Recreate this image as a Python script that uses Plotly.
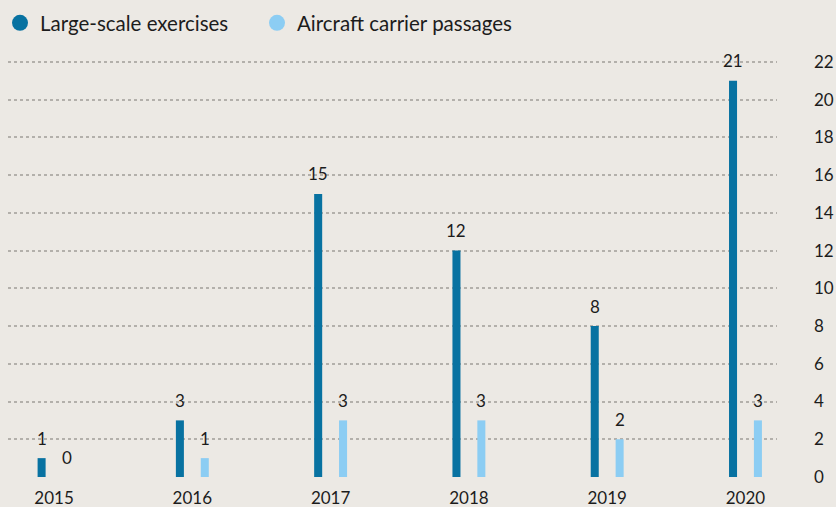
import plotly.graph_objects as go

years = [2015, 2016, 2017, 2018, 2019, 2020]
large_scale = [1, 3, 15, 12, 8, 21]
carrier = [0, 1, 3, 3, 2, 3]
series_names = ["Large-scale exercises", "Aircraft carrier passages"]
y_ticks = list(range(0, 23, 2))

DARK = "#0872a1"
LIGHT = "#8ccdf3"
BG = "#ece9e4"
TXT = "#1c1c1c"
FONT = "Lato"

bw = 0.058
off = 0.09

fig = go.Figure()
fig.add_trace(go.Bar(x=years, y=large_scale, width=bw, offset=-off - bw / 2,
                     marker=dict(color=DARK, line=dict(width=0)), showlegend=False,
                     hoverinfo="skip"))
fig.add_trace(go.Bar(x=years, y=carrier, width=bw, offset=off - bw / 2,
                     marker=dict(color=LIGHT, line=dict(width=0)), showlegend=False,
                     hoverinfo="skip"))

for name, col in zip(series_names, [DARK, LIGHT]):
    fig.add_trace(go.Scatter(x=[None], y=[None], mode="markers", name=name,
                             marker=dict(symbol="circle", size=17, color=col)))

for yr, v1, v2 in zip(years, large_scale, carrier):
    fig.add_annotation(x=yr, y=v1, text=str(v1), showarrow=False, xshift=-12.5,
                       yshift=20, yanchor="middle", font=dict(size=17, color=TXT, family=FONT))
    fig.add_annotation(x=yr, y=v2, text=str(v2), showarrow=False, xshift=12.5,
                       yshift=20, yanchor="middle", font=dict(size=17, color=TXT, family=FONT))

fig.update_layout(
    width=836, height=507,
    paper_bgcolor=BG, plot_bgcolor=BG,
    margin=dict(l=8, r=59, t=40, b=30),
    font=dict(family=FONT, size=17, color=TXT),
    barmode="overlay",
    legend=dict(orientation="h", x=-0.004, y=0.994, xref="container", yref="container",
                xanchor="left", yanchor="top", font=dict(size=20.5, color=TXT, family=FONT),
                entrywidth=212, entrywidthmode="pixels", bgcolor="rgba(0,0,0,0)"),
    xaxis=dict(type="linear", range=[2014.667, 2020.228], tickvals=years,
               ticktext=[str(y) for y in years], showgrid=False, zeroline=False,
               showline=False, ticks="outside", ticklen=6, tickcolor="rgba(0,0,0,0)",
               tickfont=dict(size=17), automargin=False),
    yaxis=dict(side="right", range=[0, 23], tickvals=y_ticks, showgrid=True,
               gridcolor="#b3b0ab", griddash="dot", gridwidth=1.5, zeroline=False,
               showline=False, ticklabelstandoff=36, tickfont=dict(size=17),
               automargin=False),
)

fig.write_html("out.html", config={"displayModeBar": False},
               post_script="document.body.style.margin='0';document.body.style.overflow='hidden';")
